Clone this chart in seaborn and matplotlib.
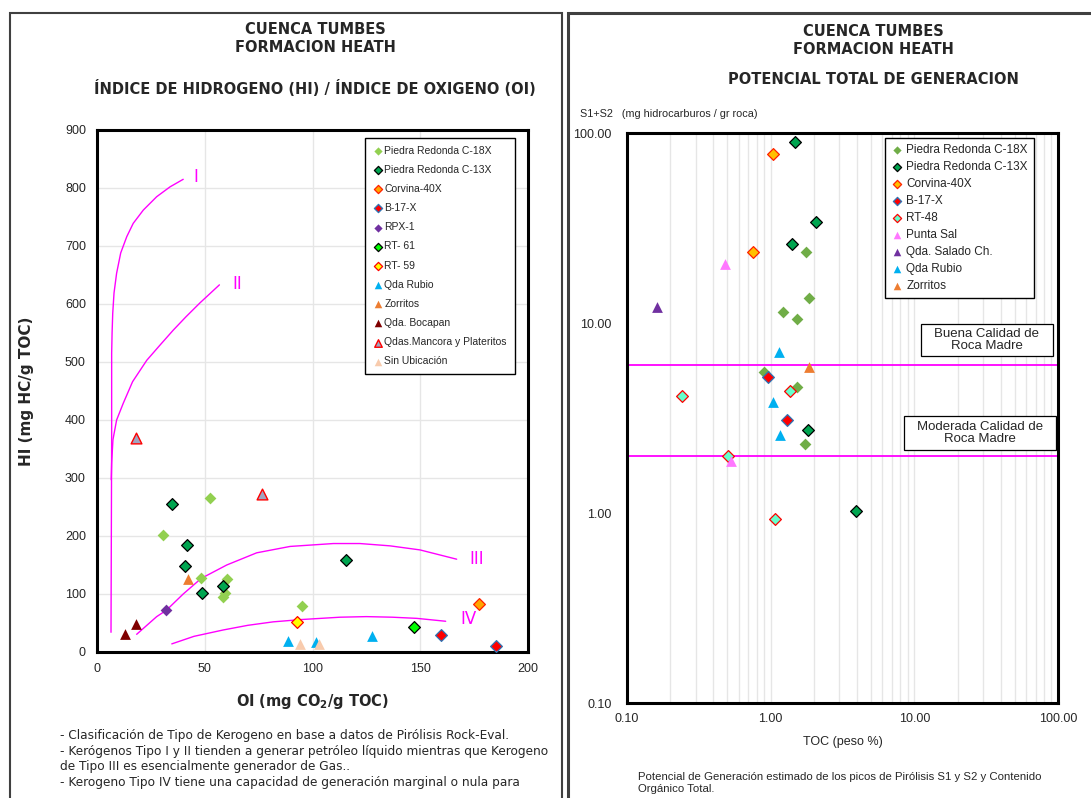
import seaborn as sns
import matplotlib.pyplot as plt
from matplotlib.patches import Rectangle
from matplotlib.ticker import FixedLocator, LogLocator, NullFormatter

# ---- left chart: HI vs OI ----
c18x_oi = [52.4, 30.5, 48.4, 60.2, 59.4, 58.3, 95.1]
c18x_hi = [265, 202, 128, 126, 101, 94, 80]
c13x_oi = [34.6, 41.8, 40.8, 58.5, 48.7, 115.4]
c13x_hi = [255, 185, 149, 114, 101, 159]
corv_oi, corv_hi = [177.4], [82]
b17x_oi, b17x_hi = [159.5, 185.2], [30, 10]
rpx1_oi, rpx1_hi = [32.2], [72]
rt61_oi, rt61_hi = [147.1], [43]
rt59_oi, rt59_hi = [93.0], [52]
rubio_oi, rubio_hi = [88.5, 101.8, 127.8], [19, 18, 27]
zorr_oi, zorr_hi = [42.1], [126]
boca_oi, boca_hi = [18.0, 12.8], [49, 31]
manc_oi, manc_hi = [18.1, 76.6], [369, 272]
sinu_oi, sinu_hi = [94.0, 103.2], [14, 14]

# kerogen type curves
t1_oi = [6.5, 6.8, 6.8, 7.0, 7.3, 7.9, 9.1, 11.0, 13.8, 16.8, 21.5, 27.7, 33.9, 40.0]
t1_hi = [34, 369, 515, 550, 584, 619, 653, 688, 716, 739, 762, 785, 802, 815]
t2_oi = [6.6, 6.8, 7.4, 9.1, 12.2, 16.5, 23.1, 29.2, 35.4, 41.3, 47.8, 56.8]
t2_hi = [297, 326, 366, 400, 429, 466, 503, 529, 555, 578, 602, 633]
t3_oi = [18.4, 27.7, 32.2, 40.0, 48.4, 60.2, 74.1, 89.6, 109.7, 122, 136, 149.9, 166.9]
t3_hi = [30.5, 61, 72, 100, 127, 150, 171, 182, 187, 187, 183, 176, 160]
t4_oi = [34.7, 45, 58.6, 70, 81.8, 95, 112.8, 125, 137, 148.4, 161.8]
t4_hi = [14, 27, 38, 46, 52, 56, 60, 61, 60, 58, 53]

# ---- right chart: S1+S2 vs TOC ----
r_c18x_toc = [1.76, 1.84, 1.22, 1.52, 0.90, 1.52, 1.74]
r_c18x_s = [23.7, 13.5, 11.4, 10.5, 5.5, 4.63, 2.30]
r_c13x_toc = [1.48, 2.07, 1.40, 1.83, 3.95]
r_c13x_s = [89.3, 33.9, 26.2, 2.75, 1.02]
r_corv_toc, r_corv_s = [1.04, 0.757], [77.3, 23.7]
r_b17x_toc, r_b17x_s = [0.96, 1.30], [5.2, 3.08]
r_rt48_toc, r_rt48_s = [0.241, 1.36, 0.502, 1.066], [4.13, 4.38, 2.0, 0.93]
r_psal_toc, r_psal_s = [0.481, 0.527], [20.4, 1.88]
r_sal_toc, r_sal_s = [0.161], [12.2]
r_rubio_toc, r_rubio_s = [1.137, 1.03, 1.155], [7.0, 3.85, 2.58]
r_zorr_toc, r_zorr_s = [1.86], [5.9]
buena_level = 6.0
moderada_level = 2.0

sns.set_style('white')
ARIAL = ['Liberation Sans', 'DejaVu Sans']
TAHOMA = ['DejaVu Sans']
plt.rcParams['font.family'] = ARIAL

fig = plt.figure(figsize=(10.91, 7.98), dpi=100)
W, H = 1091, 798


def fx(p):
    return p / W


def fy(p):
    return 1 - p / H


# panel frames
fig.add_artist(Rectangle((fx(10), -0.05), fx(552), fy(13) + 0.05, transform=fig.transFigure,
                         fill=False, lw=1.5, ec='#404040'))
fig.add_artist(Rectangle((fx(568), -0.05), fx(540), fy(13) + 0.05, transform=fig.transFigure,
                         fill=False, lw=2.2, ec='#404040'))

ax1 = fig.add_axes([fx(97), fy(652), fx(431), 522 / H])
ax2 = fig.add_axes([fx(627), fy(703), fx(431), 570 / H])

MAGENTA = '#FF00FF'


def pts(ax, x, y, name, marker, fc, ec=None, s=36, lw=0.9):
    sns.scatterplot(x=x, y=y, ax=ax, marker=marker, s=s, color=fc,
                    edgecolor=ec if ec else fc, linewidth=lw if ec else 0,
                    label=name, zorder=4)


# left curves
for cx, cy in [(t1_oi, t1_hi), (t2_oi, t2_hi), (t3_oi, t3_hi), (t4_oi, t4_hi)]:
    sns.lineplot(x=cx, y=cy, ax=ax1, sort=False, estimator=None, color=MAGENTA, lw=1.0, zorder=2)

pts(ax1, c18x_oi, c18x_hi, 'Piedra Redonda C-18X', 'D', '#92D050')
pts(ax1, c13x_oi, c13x_hi, 'Piedra Redonda C-13X', 'D', '#00A550', 'black')
pts(ax1, corv_oi, corv_hi, 'Corvina-40X', 'D', '#FFA500', '#FF2000')
pts(ax1, b17x_oi, b17x_hi, 'B-17-X', 'D', '#FF0000', '#2E75B6')
pts(ax1, rpx1_oi, rpx1_hi, 'RPX-1', 'D', '#7030A0')
pts(ax1, rt61_oi, rt61_hi, 'RT- 61', 'D', '#00FF00', 'black')
pts(ax1, rt59_oi, rt59_hi, 'RT- 59', 'D', '#FFFF00', '#FF0000')
pts(ax1, rubio_oi, rubio_hi, 'Qda Rubio', '^', '#00B0F0', s=60)
pts(ax1, zorr_oi, zorr_hi, 'Zorritos', '^', '#ED7D31', s=60)
pts(ax1, boca_oi, boca_hi, 'Qda. Bocapan', '^', '#7F0000', s=60)
pts(ax1, manc_oi, manc_hi, 'Qdas.Mancora y Plateritos', '^', '#A0A4C0', '#FF0000', s=60, lw=1.0)
pts(ax1, sinu_oi, sinu_hi, 'Sin Ubicación', '^', '#F8CBAD', s=60)

ax1.set_xlim(0, 200)
ax1.set_ylim(0, 900)
ax1.set_xticks(range(0, 201, 50))
ax1.set_yticks(range(0, 901, 100))
ax1.grid(True, color='#E6E6E6', lw=1.0)
ax1.set_axisbelow(True)
ax1.tick_params(length=0, labelsize=9, pad=8)
for sp in ax1.spines.values():
    sp.set_linewidth(2.2)
    sp.set_color('black')
ax1.set_xlabel('OI (mg CO$_\\mathbf{2}$/g TOC)', fontsize=10.5, fontweight='bold', family=TAHOMA, labelpad=12)
ax1.set_ylabel('HI (mg HC/g TOC)', fontsize=11, fontweight='bold', family=TAHOMA, labelpad=22)

for lab, x, y in [('I', 44.5, 819), ('II', 63, 634), ('III', 173, 160), ('IV', 168.5, 57)]:
    ax1.text(x, y, lab, color=MAGENTA, fontsize=12, family=TAHOMA, va='center', ha='left')

ax1.legend(loc='upper left', bbox_to_anchor=(0.622, 0.985), borderaxespad=0, fontsize=7.5,
           frameon=True, fancybox=False, edgecolor='black', framealpha=1, markerscale=0.7,
           handletextpad=0.1, handlelength=1.0, labelspacing=0.88, borderpad=0.75)

# right chart
ax2.set_xscale('log')
ax2.set_yscale('log')
ax2.axhline(buena_level, color=MAGENTA, lw=1.3, zorder=2)
ax2.axhline(moderada_level, color=MAGENTA, lw=1.3, zorder=2)

pts(ax2, r_c18x_toc, r_c18x_s, 'Piedra Redonda C-18X', 'D', '#70AD47')
pts(ax2, r_c13x_toc, r_c13x_s, 'Piedra Redonda C-13X', 'D', '#00A550', 'black')
pts(ax2, r_corv_toc, r_corv_s, 'Corvina-40X', 'D', '#FFC000', '#FF2000')
pts(ax2, r_b17x_toc, r_b17x_s, 'B-17-X', 'D', '#FF0000', '#2E75B6')
pts(ax2, r_rt48_toc, r_rt48_s, 'RT-48', 'D', '#66FFCC', '#FF0000')
pts(ax2, r_psal_toc, r_psal_s, 'Punta Sal', '^', '#FF77FF', s=60)
pts(ax2, r_sal_toc, r_sal_s, 'Qda. Salado Ch.', '^', '#7030A0', s=60)
pts(ax2, r_rubio_toc, r_rubio_s, 'Qda Rubio', '^', '#00B0F0', s=60)
pts(ax2, r_zorr_toc, r_zorr_s, 'Zorritos', '^', '#ED7D31', s=60)

ax2.set_xlim(0.1, 100)
ax2.set_ylim(0.1, 100)
ax2.xaxis.set_major_locator(FixedLocator([0.1, 1, 10, 100]))
ax2.yaxis.set_major_locator(FixedLocator([0.1, 1, 10, 100]))
ax2.xaxis.set_minor_locator(LogLocator(base=10, subs=range(2, 10)))
ax2.yaxis.set_minor_locator(LogLocator(base=10, subs=range(2, 10)))
ax2.xaxis.set_minor_formatter(NullFormatter())
ax2.yaxis.set_minor_formatter(NullFormatter())
ax2.set_xticklabels(['0.10', '1.00', '10.00', '100.00'])
ax2.set_yticklabels(['0.10', '1.00', '10.00', '100.00'])
ax2.tick_params(axis='both', which='major', direction='in', length=5, width=1, labelsize=9)
ax2.tick_params(axis='both', which='minor', direction='in', length=3, width=1)
ax2.tick_params(axis='x', which='major', pad=7)
ax2.tick_params(axis='y', which='major', pad=11)
ax2.grid(True, axis='x', which='both', color='#E6E6E6', lw=1.0)
ax2.set_axisbelow(True)
for sp in ax2.spines.values():
    sp.set_linewidth(2.2)
    sp.set_color('black')
ax2.set_xlabel('TOC (peso %)', fontsize=9, labelpad=8)
ax2.set_ylabel('')

# quality boxes
for (x0, x1, y0, y1), txt in [((0.682, 0.988, 0.609, 0.665), 'Buena Calidad de\nRoca Madre'),
                              ((0.643, 0.995, 0.444, 0.504), 'Moderada Calidad de\nRoca Madre')]:
    ax2.add_patch(Rectangle((x0, y0), x1 - x0, y1 - y0, transform=ax2.transAxes,
                            fc='white', ec='black', lw=0.9, zorder=5))
    ax2.text((x0 + x1) / 2, (y0 + y1) / 2, txt, transform=ax2.transAxes, ha='center', va='center',
             fontsize=9.5, linespacing=1.05, zorder=6)

ax2.legend(loc='upper left', bbox_to_anchor=(0.599, 0.991), borderaxespad=0, fontsize=8.5,
           frameon=True, fancybox=False, edgecolor='black', framealpha=1, markerscale=0.7,
           handletextpad=0.3, handlelength=1.0, labelspacing=0.42, borderpad=0.5)

# titles and notes
for t, y in [('CUENCA TUMBES', 30), ('FORMACION HEATH', 48),
             ('ÍNDICE DE HIDROGENO (HI) / ÍNDICE DE OXIGENO (OI)', 89)]:
    fig.text(fx(315), fy(y), t, ha='center', va='center', fontsize=10.5, fontweight='bold', family=TAHOMA)
for t, y in [('CUENCA TUMBES', 32), ('FORMACION HEATH', 50), ('POTENCIAL TOTAL DE GENERACION', 79)]:
    fig.text(fx(873), fy(y), t, ha='center', va='center', fontsize=10.5, fontweight='bold', family=TAHOMA)

fig.text(fx(580), fy(114), 'S1+S2   (mg hidrocarburos / gr roca)', ha='left', va='center', fontsize=7.8)

notes = ('- Clasificación de Tipo de Kerogeno en base a datos de Pirólisis Rock-Eval.\n'
         '- Kerógenos Tipo I y II tienden a generar petróleo líquido mientras que Kerogeno\n'
         'de Tipo III es esencialmente generador de Gas..\n'
         '- Kerogeno Tipo IV tiene una capacidad de generación marginal o nula para')
fig.text(fx(60), fy(729), notes, ha='left', va='top', fontsize=8.7, family=TAHOMA, linespacing=1.26)

fig.text(fx(638), fy(772), 'Potencial de Generación estimado de los picos de Pirólisis S1 y S2 y Contenido\n'
         'Orgánico Total.', ha='left', va='top', fontsize=8.2, linespacing=1.25)

fig.savefig('out.png', dpi=100)
